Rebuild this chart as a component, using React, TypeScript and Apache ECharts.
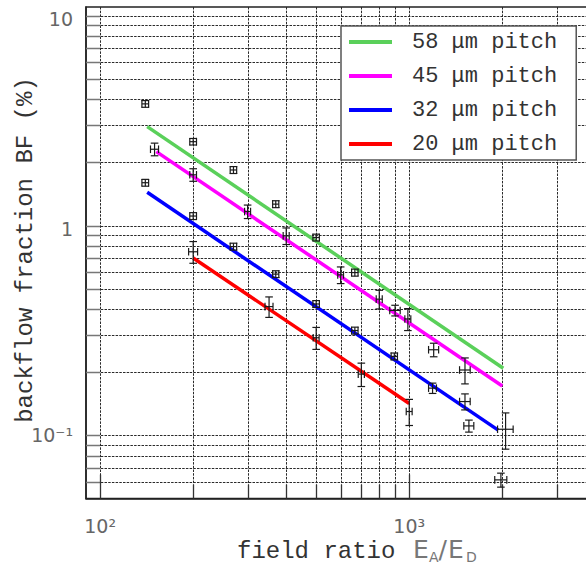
import React, { useEffect, useRef } from "react";
import * as echarts from "echarts";

// Axis ranges (log-log)
const X_MIN = 90;
const X_MAX = 4000;
const Y_MIN = 0.05;
const Y_MAX = 11;

// Decade tick labels
const X_TICK_VALUES = [100, 1000];
const X_TICK_LABELS = ["10²", "10³"];
const Y_TICK_VALUES = [0.1, 1, 10];
const Y_TICK_LABELS = ["10⁻¹", "1", "10"];

// Log grid lines
const X_GRID = [100, 200, 300, 400, 500, 600, 700, 800, 900, 1000, 2000, 3000];
const X_MAJOR = [100, 1000];
const Y_GRID = [
  0.06, 0.07, 0.08, 0.09, 0.1, 0.2, 0.3, 0.4, 0.5, 0.6, 0.7, 0.8, 0.9, 1, 2, 3, 4,
  5, 6, 7, 8, 9, 10,
];

// Fit lines, one per GEM pitch: [field ratio, BF %]
const PITCH_NAMES = ["58 μm pitch", "45 μm pitch", "32 μm pitch", "20 μm pitch"];
const PITCH_COLORS = ["#5ad05a", "#ff00ff", "#0000ff", "#ff0000"];
const FIT_58 = [
  [142, 2.96],
  [2015, 0.209],
];
const FIT_45 = [
  [152, 2.25],
  [2000, 0.172],
];
const FIT_32 = [
  [142, 1.44],
  [1940, 0.106],
];
const FIT_20 = [
  [200, 0.7],
  [1000, 0.142],
];
const FITS = [FIT_58, FIT_45, FIT_32, FIT_20];

// Measurements with uncertainties
const MEAS_RATIO = [
  140, 200, 150, 200, 270, 140, 300, 200, 370, 400, 500, 200, 270, 370, 352, 500, 500,
  600, 667, 800, 900, 990, 667, 1200, 700, 895, 1515, 1190, 1515, 1000, 1560, 2050, 1980,
];
const MEAS_BF = [
  3.8, 2.51, 2.31, 1.745, 1.84, 1.6, 1.166, 1.11, 1.265, 0.893, 0.877, 0.75, 0.794, 0.587,
  0.411, 0.423, 0.292, 0.582, 0.597, 0.446, 0.394, 0.359, 0.316, 0.256, 0.196, 0.238,
  0.205, 0.168, 0.145, 0.13, 0.111, 0.107, 0.0614,
];
const MEAS_RATIO_ERR = [
  3.5, 5, 4.5, 5, 6.5, 3.5, 6.7, 5, 8.5, 9, 12, 6.7, 6.5, 8.5, 10.5, 12, 11, 13, 16, 18, 35,
  22, 16, 45, 16, 21, 60, 35, 60, 22, 58, 119, 89,
];
const MEAS_BF_ERR = [
  0.14, 0.09, 0.16, 0.12, 0.07, 0.06, 0.086, 0.042, 0.048, 0.081, 0.033, 0.089, 0.03,
  0.022, 0.046, 0.016, 0.035, 0.053, 0.023, 0.0455, 0.023, 0.043, 0.012, 0.019, 0.025,
  0.009, 0.029, 0.0095, 0.0127, 0.0185, 0.0073, 0.021, 0.0047,
];

const MONO = "'Liberation Mono', 'DejaVu Sans Mono', monospace";
const SANS = "'DejaVu Sans', sans-serif";

const px = (v: number) => Math.round(v) + 0.5;

function decadeLabel(values: number[], labels: string[], lowered: string[] = []) {
  return (v: number) => {
    for (let i = 0; i < values.length; i++) {
      if (Math.abs(Math.log10(v) - Math.log10(values[i])) < 1e-6) {
        return lowered.indexOf(labels[i]) >= 0 ? `{lo|${labels[i]}}` : labels[i];
      }
    }
    return "";
  };
}

function renderHGrid(params: any, api: any) {
  const cs = params.coordSys;
  const y = px(api.coord([X_MIN, api.value(1)])[1]);
  return {
    type: "group",
    children: [
      {
        type: "line",
        shape: { x1: cs.x, y1: y, x2: cs.x + cs.width, y2: y },
        style: { stroke: "#2a2a2a", lineWidth: 1, lineDash: [2.5, 1.2] },
      },
      {
        type: "line",
        shape: { x1: cs.x, y1: y, x2: cs.x + 14, y2: y },
        style: { stroke: "#777", lineWidth: 1.5 },
      },
    ],
  };
}

function renderVGrid(params: any, api: any) {
  const cs = params.coordSys;
  const v = api.value(0);
  const x = px(api.coord([v, Y_MIN])[0]);
  const bottom = cs.y + cs.height;
  const len = X_MAJOR.indexOf(v) >= 0 ? 24 : 14;
  return {
    type: "group",
    children: [
      {
        type: "line",
        shape: { x1: x, y1: cs.y, x2: x, y2: bottom },
        style: { stroke: "#2a2a2a", lineWidth: 1, lineDash: [2.5, 1.2] },
      },
      {
        type: "line",
        shape: { x1: x, y1: bottom, x2: x, y2: bottom - len },
        style: { stroke: "#333", lineWidth: 1.3 },
      },
    ],
  };
}

function renderErrorCross(_params: any, api: any) {
  const x = api.value(0);
  const y = api.value(1);
  const dx = api.value(2);
  const dy = api.value(3);
  const c = api.coord([x, y]);
  const xl = api.coord([x - dx, y])[0];
  const xr = api.coord([x + dx, y])[0];
  const yt = api.coord([x, y + dy])[1];
  const yb = api.coord([x, y - dy])[1];
  const h = 3.8;
  const st = { stroke: "#1a1a1a", lineWidth: 1.2 };
  const seg = (x1: number, y1: number, x2: number, y2: number) => ({
    type: "line",
    shape: { x1, y1, x2, y2 },
    style: st,
  });
  return {
    type: "group",
    children: [
      seg(xl, c[1], xr, c[1]),
      seg(xl, c[1] - h, xl, c[1] + h),
      seg(xr, c[1] - h, xr, c[1] + h),
      seg(c[0], yt, c[0], yb),
      seg(c[0] - h, yt, c[0] + h, yt),
      seg(c[0] - h, yb, c[0] + h, yb),
    ],
  };
}

const textStyle = (text: string, font: string, fill: string, align = "left") => ({
  text,
  font,
  fill,
  align,
  verticalAlign: "middle",
  textAlign: align,
  textVerticalAlign: "middle",
});

export default function App() {
  const ref = useRef<HTMLDivElement>(null);

  useEffect(() => {
    if (!ref.current) return;
    const chart = echarts.init(ref.current, null, { renderer: "svg" });

    const fitSeries = FITS.map((d, i) => ({
      type: "line",
      name: PITCH_NAMES[i],
      data: d,
      showSymbol: false,
      symbol: "none",
      lineStyle: { width: 3.5, color: PITCH_COLORS[i] },
      itemStyle: { color: PITCH_COLORS[i] },
      z: 3,
    }));

    const measurements = MEAS_RATIO.map((r, i) => [
      r,
      MEAS_BF[i],
      MEAS_RATIO_ERR[i],
      MEAS_BF_ERR[i],
    ]);

    chart.setOption({
      animation: false,
      backgroundColor: "#fff",
      grid: {
        left: 86,
        top: 7,
        width: 509.3,
        height: 491.6,
        outerBoundsMode: "none",
        containLabel: false,
        show: true,
        borderColor: "#222",
        borderWidth: 1.5,
        backgroundColor: "transparent",
      },
      xAxis: {
        type: "log",
        logBase: 10,
        min: X_MIN,
        max: X_MAX,
        splitLine: { show: false },
        axisTick: { show: false },
        axisLine: { show: true, lineStyle: { color: "#222", width: 1.5 } },
        axisLabel: {
          formatter: decadeLabel(X_TICK_VALUES, X_TICK_LABELS),
          fontFamily: SANS,
          fontSize: 19,
          color: "#666",
          margin: 18,
          showMinLabel: false,
          showMaxLabel: false,
        },
      },
      yAxis: {
        type: "log",
        logBase: 10,
        min: Y_MIN,
        max: Y_MAX,
        splitLine: { show: false },
        axisTick: { show: false },
        axisLine: { show: true, lineStyle: { color: "#222", width: 1.5 } },
        axisLabel: {
          formatter: decadeLabel(Y_TICK_VALUES, Y_TICK_LABELS, ["1", "10"]),
          fontFamily: SANS,
          fontSize: 19,
          color: "#666",
          margin: 13,
          showMinLabel: false,
          showMaxLabel: false,
          rich: {
            lo: {
              fontFamily: SANS,
              fontSize: 19,
              color: "#666",
              padding: [7, 0, 0, 0],
            },
          },
        },
      },
      legend: {
        data: PITCH_NAMES,
        orient: "vertical",
        left: 341,
        top: 26,
        icon: "rect",
        itemWidth: 43,
        itemHeight: 4,
        itemGap: 10,
        padding: [4, 19, 4, 8],
        backgroundColor: "#fff",
        borderColor: "#555",
        borderWidth: 1.5,
        selectedMode: false,
        textStyle: {
          fontFamily: MONO,
          fontSize: 22,
          lineHeight: 24,
          color: "#333",
          padding: [0, 0, 0, 15],
        },
      },
      graphic: [
        {
          type: "text",
          x: 25,
          y: 250,
          rotation: Math.PI / 2,
          style: textStyle("backflow fraction BF (%)", `24px ${MONO}`, "#333", "center"),
        },
        { type: "text", x: 237, y: 551, style: textStyle("field ratio", `24px ${MONO}`, "#333") },
        { type: "text", x: 413, y: 549, style: textStyle("E", `25px ${SANS}`, "#777") },
        { type: "text", x: 429, y: 557, style: textStyle("A", `14px ${SANS}`, "#777") },
        { type: "text", x: 438.5, y: 549, style: textStyle("/", `25px ${SANS}`, "#777") },
        { type: "text", x: 448, y: 549, style: textStyle("E", `25px ${SANS}`, "#777") },
        { type: "text", x: 466, y: 557, style: textStyle("D", `14px ${SANS}`, "#777") },
      ],
      series: [
        {
          type: "custom",
          name: "hgrid",
          renderItem: renderHGrid,
          data: Y_GRID.map((v) => [X_MIN, v]),
          encode: { x: 0, y: 1 },
          silent: true,
          z: 1,
        },
        {
          type: "custom",
          name: "vgrid",
          renderItem: renderVGrid,
          data: X_GRID.map((v) => [v, Y_MIN]),
          encode: { x: 0, y: 1 },
          silent: true,
          z: 1,
        },
        ...fitSeries,
        {
          type: "custom",
          name: "measurements",
          renderItem: renderErrorCross,
          dimensions: ["ratio", "bf", "ratioErr", "bfErr"],
          data: measurements,
          encode: { x: 0, y: 1 },
          z: 4,
        },
      ],
    });

    return () => chart.dispose();
  }, []);

  return (
    <div
      ref={ref}
      style={{ position: "fixed", left: 0, top: 0, width: 586, height: 565 }}
    />
  );
}
